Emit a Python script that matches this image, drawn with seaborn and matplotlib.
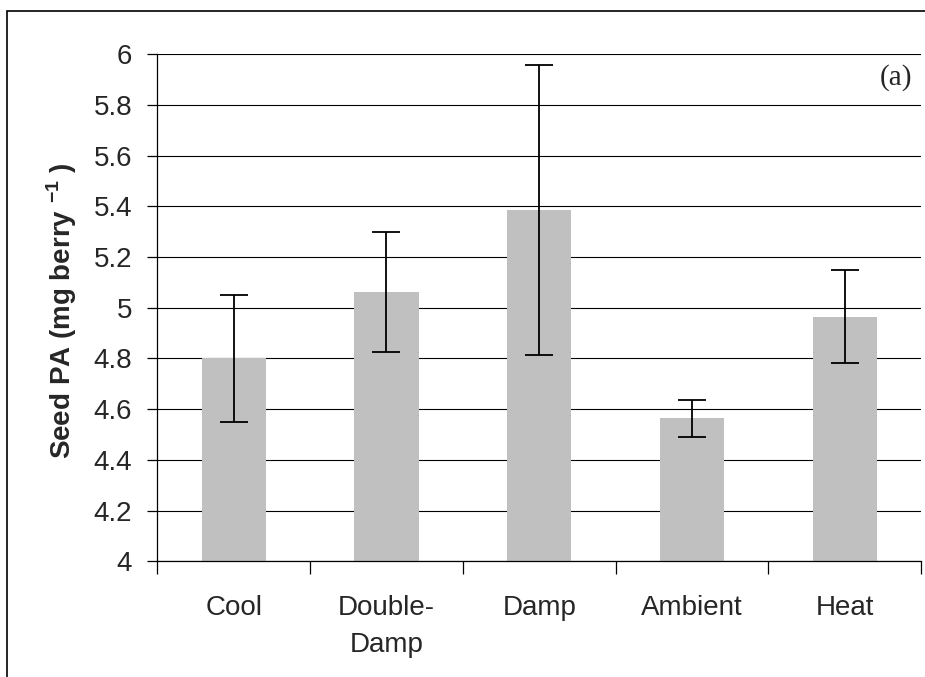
import numpy as np
import pandas as pd
import seaborn as sns
from matplotlib import pyplot as plt
from matplotlib.patches import Rectangle
from matplotlib.ticker import FixedLocator

categories = ['Cool', 'Double-\nDamp', 'Damp', 'Ambient', 'Heat']
means = [4.80, 5.06, 5.385, 4.565, 4.965]
err_low = [4.55, 4.825, 4.815, 4.49, 4.78]
err_high = [5.05, 5.30, 5.957, 4.635, 5.15]
yticks = [4, 4.2, 4.4, 4.6, 4.8, 5, 5.2, 5.4, 5.6, 5.8, 6]
ytick_labels = ['4', '4.2', '4.4', '4.6', '4.8', '5', '5.2', '5.4', '5.6', '5.8', '6']

sns.set_style('white')
plt.rcParams['font.family'] = ['Liberation Sans', 'DejaVu Sans']
plt.rcParams['mathtext.fontset'] = 'custom'
plt.rcParams['mathtext.rm'] = 'Liberation Sans'
plt.rcParams['mathtext.bf'] = 'Liberation Sans:bold'

df = pd.DataFrame({'cat': categories, 'mean': means})

fig = plt.figure(figsize=(9.25, 6.77), dpi=100)
ax = fig.add_axes([0.170, 0.171, 0.826, 0.749])

# gridlines under bars
ax.set_axisbelow(True)
ax.yaxis.grid(True, color='black', linewidth=0.8)

sns.barplot(data=df, x='cat', y='mean', color='#C0C0C0', saturation=1,
            width=0.42, errorbar=None, linewidth=0, ax=ax)

x = np.arange(len(categories))
m = np.array(means)
yerr = [m - np.array(err_low), np.array(err_high) - m]
ax.errorbar(x, m, yerr=yerr, fmt='none', ecolor='black', elinewidth=1.3,
            capsize=10, capthick=1.3)

ax.set_ylim(4, 6)
ax.set_xlim(-0.5, len(categories) - 0.5)
ax.set_yticks(yticks)
ax.set_yticklabels(ytick_labels, fontsize=20)
ax.tick_params(axis='y', length=7, width=0.9, pad=11, color='black', left=True)
ax.tick_params(axis='x', which='major', length=0, pad=24, labelsize=20)
for t in ax.get_xticklabels():
    t.set_linespacing(1.55)
ax.xaxis.set_minor_locator(FixedLocator(np.arange(-0.5, len(categories), 1.0)))
ax.tick_params(axis='x', which='minor', length=9, width=0.9, color='black', bottom=True)

for s in ['top', 'right']:
    ax.spines[s].set_visible(False)
for s in ['left', 'bottom']:
    ax.spines[s].set_color('black')
    ax.spines[s].set_linewidth(0.9)

ax.set_xlabel('')
ax.set_ylabel(r'Seed PA (mg berry $^{\mathbf{-1}}$ )', fontsize=20, fontweight='bold')
ax.yaxis.set_label_coords(-0.103, 0.495)

ax.text(0.967, 0.953, '(a)', transform=ax.transAxes, ha='center', va='center',
        fontsize=21, family='Liberation Serif')

# outer chart border
fig.patches.append(Rectangle((0.0076, -0.1), 1.2, 0.9838 + 0.1, transform=fig.transFigure,
                             fill=False, edgecolor='black', linewidth=1.2))

plt.savefig('out.png', dpi=100)
